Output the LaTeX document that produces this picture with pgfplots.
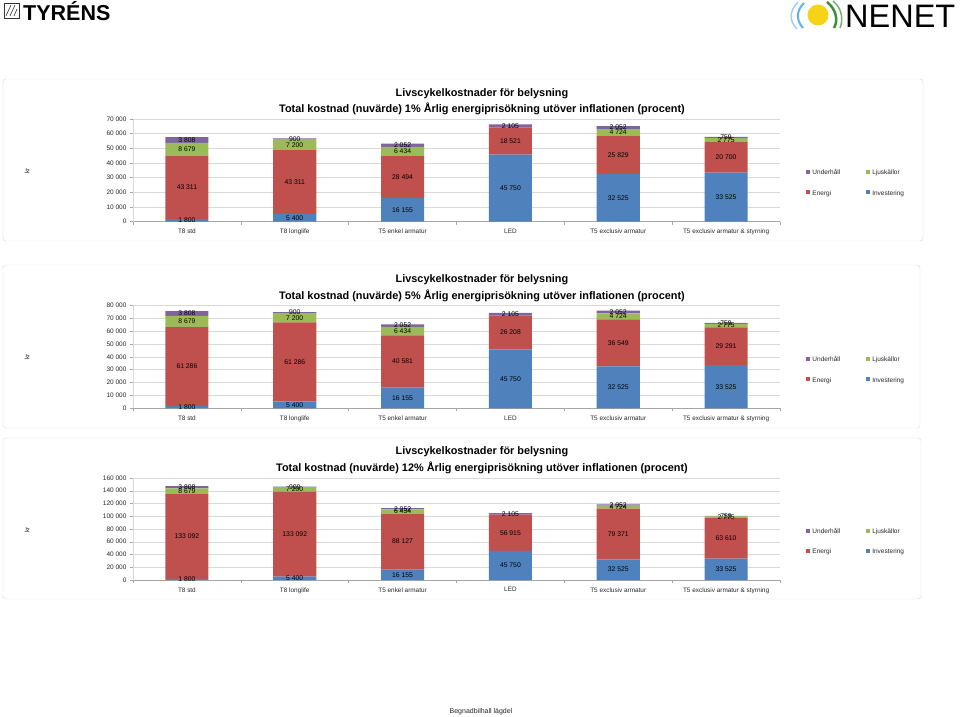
\documentclass[border=0pt]{standalone}
\usepackage{pgfplots}
\pgfplotsset{compat=1.18}
\usepackage{fontspec}
\setmainfont{Liberation Sans}
\definecolor{cInv}{HTML}{4F81BD}
\definecolor{cEne}{HTML}{C0504D}
\definecolor{cLjus}{HTML}{9BBB59}
\definecolor{cUnd}{HTML}{8064A2}
\definecolor{cGrid}{HTML}{D9D9D9}
\definecolor{cAxis}{HTML}{A6A6A6}
\definecolor{cFrame}{HTML}{D9D9D9}
\definecolor{cTxt}{HTML}{262626}
\definecolor{cYel}{HTML}{F6D316}
\definecolor{cBlue}{HTML}{5BB6E6}
\definecolor{cGreen}{HTML}{3F8F3A}

\pgfkeys{/pgf/number format/.cd, fixed, precision=0, 1000 sep={\ }, assume math mode=true}
\newcommand{\ticksize}{\fontsize{6.5}{7.5}\selectfont}
\newcommand{\catsize}{\fontsize{6.4}{7.5}\selectfont}
\newcommand{\labsize}{\fontsize{6.8}{7.5}\selectfont}
\newcommand{\titlefont}{\fontsize{10.9}{12}\selectfont\bfseries}

\pgfplotsset{
  lccbase/.style={
    scale only axis, width=647pt, anchor=south west, clip=false,
    xmin=-0.5, xmax=5.5, ymin=0,
  },
  lcc/.style={
    lccbase,
    ybar stacked, bar width=0.4,
    xtick={0,...,5},
    xticklabels={T8 std, T8 longlife, T5 enkel armatur, LED, T5 exclusiv armatur, T5 exclusiv armatur \& styrning},
    major x tick style={draw=none},
    minor xtick={-0.5,0.5,...,5.5},
    tick align=outside,
    major tick length=3pt, minor tick length=3pt,
    tick style={draw=cAxis, line width=0.5pt},
    axis x line*=bottom, axis y line*=left,
    axis line style={-, draw=cAxis, line width=0.5pt},
    y axis line style={draw=cGrid},
    ymajorgrids, major grid style={draw=cGrid, line width=0.5pt},
    scaled y ticks=false,
    tick label style={font=\ticksize, text=cTxt},
    xticklabel style={font=\catsize, yshift=-1pt},
    reverse legend, legend columns=2,
    legend cell align=left,
    legend image code/.code={\fill[##1] (0pt,-2pt) rectangle (4pt,2pt);},
    legend style={draw=none, fill=none, anchor=west, font=\fontsize{6.5}{8}\selectfont, text=cTxt,
      nodes={text height=1.6ex, text depth=0.45ex},
      row sep=5.5pt, /tikz/every even column/.append style={column sep=24pt}},
  },
  lcclab/.style={
    lccbase, hide axis,
  },
  labplot/.style={draw=none, mark=none, nodes near coords, point meta=explicit,
    nodes near coords={\pgfmathprintnumber{\pgfplotspointmeta}},
    every node near coord/.append style={anchor=center, font=\labsize, text=black, inner sep=0pt}},
}

\begin{document}
\begin{tikzpicture}
\path[use as bounding box] (0,0) rectangle (960pt,716pt);

% ---------- logos ----------
\draw[black!80, line width=0.8pt] (4pt,698pt) rectangle (19pt,713pt);
\draw[black!80, line width=0.6pt] (6pt,700pt) -- (11pt,711pt) (10pt,700pt) -- (15pt,711pt) (14pt,700pt) -- (17pt,707pt);
\node[anchor=west, inner sep=0pt, font=\fontsize{21.5}{23}\selectfont\bfseries] at (23pt,704.5pt) {TYRÉNS};
\fill[cYel] (818pt,701pt) circle (10.5pt);
\draw[cBlue, line width=2pt] (804pt,713pt) .. controls (796pt,705pt) and (796pt,696pt) .. (803pt,688pt);
\draw[cBlue!60, line width=1.5pt] (798pt,714pt) .. controls (789pt,705pt) and (789pt,695pt) .. (797pt,687pt);
\draw[cGreen, line width=2.5pt] (827pt,714pt) .. controls (837pt,706pt) and (838pt,695pt) .. (834pt,688pt);
\draw[cGreen!70, line width=1.5pt] (833pt,715pt) .. controls (843pt,707pt) and (843pt,695pt) .. (840pt,688pt);
\node[anchor=west, inner sep=0pt, font=\fontsize{32.5}{34}\selectfont] at (845pt,700pt) {NENET};

% ---------- frames ----------
\draw[cFrame, rounded corners=3pt] (3pt,475pt) rectangle (923pt,637pt);
\draw[cFrame, rounded corners=3pt] (3pt,288pt) rectangle (920pt,451pt);
\draw[cFrame, rounded corners=3pt] (3pt,117pt) rectangle (921pt,278pt);

% ---------- titles ----------
\node[font=\titlefont, inner sep=0pt] at (482pt,622pt) {Livscykelkostnader för belysning};
\node[font=\titlefont, inner sep=0pt] at (482pt,607.5pt) {Total kostnad (nuvärde) 1\% Årlig energiprisökning utöver inflationen (procent)};
\node[font=\titlefont, inner sep=0pt] at (482pt,436pt) {Livscykelkostnader för belysning};
\node[font=\titlefont, inner sep=0pt] at (482pt,420pt) {Total kostnad (nuvärde) 5\% Årlig energiprisökning utöver inflationen (procent)};
\node[font=\titlefont, inner sep=0pt] at (482pt,264.3pt) {Livscykelkostnader för belysning};
\node[font=\titlefont, inner sep=0pt] at (482pt,248pt) {Total kostnad (nuvärde) 12\% Årlig energiprisökning utöver inflationen (procent)};

% ---------- y labels ----------
\node[rotate=90, font=\ticksize, text=cTxt] at (27pt,545pt) {kr};
\node[rotate=90, font=\ticksize, text=cTxt] at (27pt,359pt) {kr};
\node[rotate=90, font=\ticksize, text=cTxt] at (27pt,186pt) {kr};

% ---------- panel 1 ----------
\begin{axis}[lcc, at={(133pt,494.3pt)}, height=102.7pt, ymax=70000, ytick={0,10000,...,70000},
  legend style={at={(1.036,0.386)}}]
\addplot[fill=cInv, draw=none] coordinates {(0,1800) (1,5400) (2,16155) (3,45750) (4,32525) (5,33525)};
\addlegendentry{Investering}
\addplot[fill=cEne, draw=none] coordinates {(0,43311) (1,43311) (2,28494) (3,18521) (4,25829) (5,20700)};
\addlegendentry{Energi}
\addplot[fill=cLjus, draw=none] coordinates {(0,8679) (1,7200) (2,6434) (3,0) (4,4724) (5,2775)};
\addlegendentry{Ljuskällor}
\addplot[fill=cUnd, draw=none] coordinates {(0,3808) (1,900) (2,2052) (3,2105) (4,2052) (5,759)};
\addlegendentry{Underhåll}
\end{axis}
\begin{axis}[lcclab, at={(133pt,494.3pt)}, height=102.7pt, ymax=70000]
\addplot[labplot] table[x=x, y=y, meta=v] {
x y v
0 900 1800
0 23455.5 43311
0 49450.5 8679
0 55694 3808
1 2700 5400
1 27055.5 43311
1 52311 7200
1 56361 900
2 8077.5 16155
2 30402 28494
2 47866 6434
2 52109 2052
3 22875 45750
3 55010.5 18521
3 65323.5 2105
4 16262.5 32525
4 45439.5 25829
4 60716 4724
4 64104 2052
5 16762.5 33525
5 43875 20700
5 55612.5 2775
5 57379.5 759
};
\end{axis}

% ---------- panel 2 ----------
\begin{axis}[lcc, at={(133pt,307.7pt)}, height=103pt, ymax=80000, ytick={0,10000,...,80000},
  legend style={at={(1.036,0.382)}}]
\addplot[fill=cInv, draw=none] coordinates {(0,1800) (1,5400) (2,16155) (3,45750) (4,32525) (5,33525)};
\addlegendentry{Investering}
\addplot[fill=cEne, draw=none] coordinates {(0,61286) (1,61286) (2,40581) (3,26208) (4,36549) (5,29291)};
\addlegendentry{Energi}
\addplot[fill=cLjus, draw=none] coordinates {(0,8679) (1,7200) (2,6434) (3,0) (4,4724) (5,2775)};
\addlegendentry{Ljuskällor}
\addplot[fill=cUnd, draw=none] coordinates {(0,3808) (1,900) (2,2052) (3,2105) (4,2052) (5,759)};
\addlegendentry{Underhåll}
\end{axis}
\begin{axis}[lcclab, at={(133pt,307.7pt)}, height=103pt, ymax=80000]
\addplot[labplot] table[x=x, y=y, meta=v] {
x y v
0 900 1800
0 32443 61286
0 67425.5 8679
0 73669 3808
1 2700 5400
1 36043 61286
1 70286 7200
1 74336 900
2 8077.5 16155
2 36445.5 40581
2 59953 6434
2 64196 2052
3 22875 45750
3 58854 26208
3 73010.5 2105
4 16262.5 32525
4 50799.5 36549
4 71436 4724
4 74824 2052
5 16762.5 33525
5 48170.5 29291
5 64203.5 2775
5 65970.5 759
};
\end{axis}

% ---------- panel 3 ----------
\begin{axis}[lcc, at={(133pt,136pt)}, height=102pt, ymax=160000, ytick={0,20000,...,160000},
  legend style={at={(1.036,0.385)}}]
\addplot[fill=cInv, draw=none] coordinates {(0,1800) (1,5400) (2,16155) (3,45750) (4,32525) (5,33525)};
\addlegendentry{Investering}
\addplot[fill=cEne, draw=none] coordinates {(0,133092) (1,133092) (2,88127) (3,56915) (4,79371) (5,63610)};
\addlegendentry{Energi}
\addplot[fill=cLjus, draw=none] coordinates {(0,8679) (1,7200) (2,6434) (3,0) (4,4724) (5,2775)};
\addlegendentry{Ljuskällor}
\addplot[fill=cUnd, draw=none] coordinates {(0,3808) (1,900) (2,2052) (3,2105) (4,2052) (5,759)};
\addlegendentry{Underhåll}
\end{axis}
\begin{axis}[lcclab, at={(133pt,136pt)}, height=102pt, ymax=160000]
\addplot[labplot] table[x=x, y=y, meta=v] {
x y v
0 900 1800
0 68346 133092
0 139231.5 8679
0 145475 3808
1 2700 5400
1 71946 133092
1 142092 7200
1 146142 900
2 8077.5 16155
2 60218.5 88127
2 107499 6434
2 111742 2052
3 22875 45750
3 74207.5 56915
3 103717.5 2105
4 16262.5 32525
4 72210.5 79371
4 114258 4724
4 117646 2052
5 16762.5 33525
5 65330 63610
5 98522.5 2775
5 100289.5 759
};
\end{axis}

% ---------- footer ----------
\node[font=\fontsize{7}{8}\selectfont, text=cTxt] at (481pt,4.5pt) {Begnadbilhall lägdel};
\end{tikzpicture}
\end{document}
